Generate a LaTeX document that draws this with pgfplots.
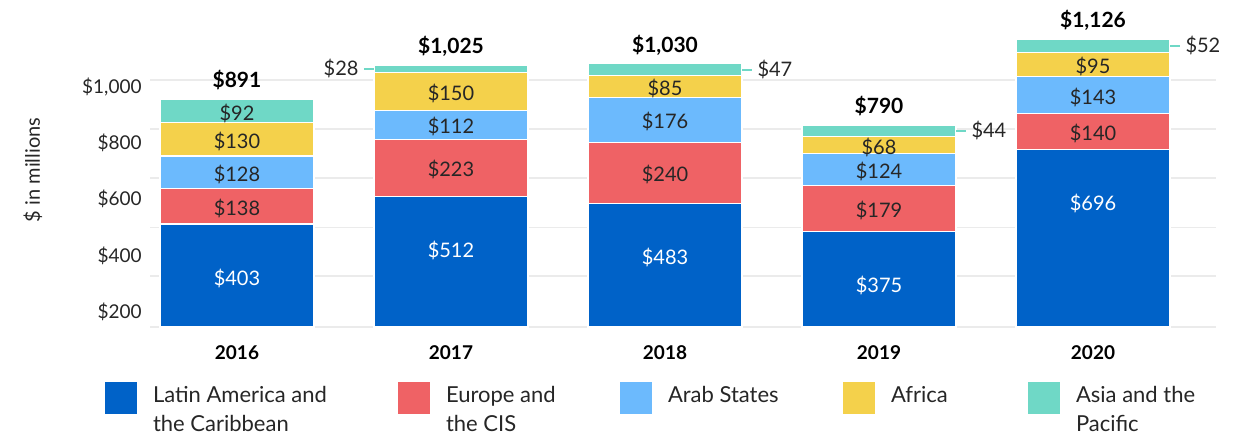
\documentclass[border=0pt]{standalone}
\usepackage{pgfplots}
\usepackage{pgfplotstable}
\pgfplotsset{compat=1.18}
\usepackage{fontspec}
\setmainfont{Lato}
\definecolor{cLAC}{HTML}{0062C8}
\definecolor{cEU}{HTML}{EF6265}
\definecolor{cAR}{HTML}{6CBAFD}
\definecolor{cAF}{HTML}{F4D14B}
\definecolor{cAS}{HTML}{6FD8C6}
\definecolor{gridc}{HTML}{EBEBEB}
\definecolor{txt}{HTML}{262626}
\pgfkeys{/pgf/number format/.cd, assume math mode=true, 1000 sep={,}}

\pgfplotstableread{
x lac eu arab afr asia total
0 403 138 128 130 92 891
1 512 223 112 150 28 1025
2 483 240 176 85 47 1030
3 375 179 124 68 44 790
4 696 140 143 95 52 1126
}\data

\pgfplotsset{
  common/.style={
    at={(0,0)}, anchor=south west, scale only axis,
    width=533pt, height=163.5pt,
    xmin=-0.4065, xmax=4.5748, ymin=0, ymax=1280,
    clip=false,
  },
  sq legend/.style={legend image code/.code={\fill[##1,draw=none] (0pt,-6pt) rectangle (16pt,10pt);}},
  lbl/.style={draw=none, mark=none, forget plot, point meta=explicit,
    nodes near coords={\$\pgfmathprintnumber{\pgfplotspointmeta}},
    nodes near coords align=center,
    every node near coord/.style={anchor=center, yshift=-1pt, font=\fontsize{10}{12}\selectfont, text=txt, inner sep=0pt}},
}

\begin{document}
\begin{tikzpicture}
\path[use as bounding box] (-75pt,-56pt) rectangle (550.5pt,163.5pt);
\begin{axis}[common,
  ybar stacked, bar width=77pt,
  axis line style={draw=none},
  tick style={draw=none}, major tick length=0pt,
  xtick={0,1,2,3,4}, xticklabels={2016,2017,2018,2019,2020},
  xticklabel style={anchor=center, yshift=-13pt, inner sep=0pt, font=\fontsize{9.5}{11}\selectfont\bfseries, text=black},
  ytick={59,278,501,720,939},
  yticklabels={\$200,\$400,\$600,\$800,{\$1,000}},
  yticklabel style={anchor=east, inner sep=0pt, xshift=-4pt, font=\fontsize{9.5}{11}\selectfont, text=txt},
  extra y ticks={0,200,391,583,775,967},
  extra y tick labels={,,,,,},
  extra y tick style={grid=major},
  major grid style={draw=gridc, line width=0.6pt},
  ylabel={\$ in millions},
  every axis y label/.style={at={(axis description cs:-0.1098,0.4801)}, rotate=90, anchor=center, font=\fontsize{10}{12}\selectfont, text=txt},
  legend columns=5,
  legend style={at={(axis description cs:-0.0422,-0.1682)}, anchor=north west, draw=none, fill=none, inner sep=0pt, outer sep=0pt, column sep=0pt,
    font=\fontsize{11}{14.5}\selectfont, text=txt,
    nodes={inner sep=0pt, outer sep=0pt},
    cells={anchor=base west, inner sep=0pt},
    /tikz/every odd column/.append style={column sep=8pt}},
]
\addplot[fill=cLAC, draw=white, line width=0.6pt, sq legend] table[x=x,y=lac]{\data};
\addlegendentry{\parbox[t]{122.5pt}{Latin America and\\the Caribbean}}
\addplot[fill=cEU, draw=white, line width=0.6pt, sq legend] table[x=x,y=eu]{\data};
\addlegendentry{\parbox[t]{87pt}{Europe and\\the CIS}}
\addplot[fill=cAR, draw=white, line width=0.6pt, sq legend] table[x=x,y=arab]{\data};
\addlegendentry{\parbox[t]{87.5pt}{Arab States}}
\addplot[fill=cAF, draw=white, line width=0.6pt, sq legend] table[x=x,y=afr]{\data};
\addlegendentry{\parbox[t]{68.5pt}{Africa}}
\addplot[fill=cAS, draw=white, line width=0.6pt, sq legend] table[x=x,y=asia]{\data};
\addlegendentry{\parbox[t]{80pt}{Asia and the\\Pacific}}
\end{axis}
\begin{axis}[common, hide axis]
\addplot[lbl, every node near coord/.append style={text=white, yshift=1pt}] table[x=x, y expr=\thisrow{lac}-212, meta=lac]{\data};
\addplot[lbl] table[x=x, y expr=\thisrow{lac}+\thisrow{eu}/2, meta=eu]{\data};
\addplot[lbl] table[x=x, y expr=\thisrow{lac}+\thisrow{eu}+\thisrow{arab}/2, meta=arab]{\data};
\addplot[lbl] table[x=x, y expr=\thisrow{lac}+\thisrow{eu}+\thisrow{arab}+\thisrow{afr}/2, meta=afr]{\data};
\addplot[lbl, skip coords between index={1}{5}] table[x=x, y expr=\thisrow{lac}+\thisrow{eu}+\thisrow{arab}+\thisrow{afr}+\thisrow{asia}/2, meta=asia]{\data};
\addplot[lbl, skip coords between index={0}{1}, skip coords between index={2}{5}, every node near coord/.append style={anchor=east, xshift=-2.5pt, yshift=1pt}] table[x expr=\thisrow{x}-0.407, y expr=\thisrow{lac}+\thisrow{eu}+\thisrow{arab}+\thisrow{afr}+\thisrow{asia}/2, meta=asia]{\data};
\addplot[lbl, skip coords between index={0}{2}, every node near coord/.append style={anchor=west, xshift=2.5pt, yshift=1pt}] table[x expr=\thisrow{x}+0.407, y expr=\thisrow{lac}+\thisrow{eu}+\thisrow{arab}+\thisrow{afr}+\thisrow{asia}/2, meta=asia]{\data};
\addplot[lbl, every node near coord/.append style={text=black, yshift=0pt, font=\fontsize{10.5}{12}\selectfont\bfseries}] table[x=x, y expr=\thisrow{total}+82, meta=total]{\data};
\addplot[cAS, line width=1pt, forget plot] coordinates {(0.593,1011) (0.640,1011)};
\addplot[cAS, line width=1pt, forget plot] coordinates {(2.360,1007.5) (2.407,1007.5)};
\addplot[cAS, line width=1pt, forget plot] coordinates {(3.360,768) (3.407,768)};
\addplot[cAS, line width=1pt, forget plot] coordinates {(4.360,1100) (4.407,1100)};
\end{axis}
\end{tikzpicture}
\end{document}
